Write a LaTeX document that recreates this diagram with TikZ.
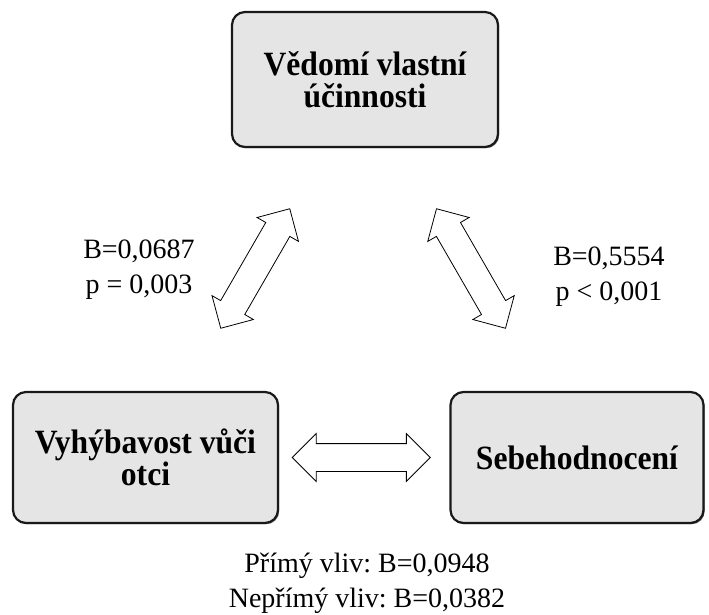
\documentclass[tikz,border=0pt]{standalone}
\usepackage{fontspec}
\setmainfont{Liberation Serif}
\newfontfamily\boxfont[FakeStretch=0.93]{Liberation Serif}
\frenchspacing
\usetikzlibrary{shapes.arrows,shadows,calc}
\begin{document}
\begin{tikzpicture}[x=1pt,y=-1pt,
  box/.style={draw=black!90, line width=2.2pt, rounded corners=13pt, fill=black!10,
    drop shadow={shadow xshift=1.2pt, shadow yshift=-1.2pt, fill=black!55, opacity=1},
    inner sep=0pt, align=center, font=\boxfont\fontsize{34}{32}\selectfont\bfseries},
  dbl/.style={double arrow, draw, line width=0.8pt, fill=white, inner xsep=0pt, inner ysep=13.5pt,
    double arrow head extend=10pt, double arrow tip angle=90, minimum height=138pt},
  lbl/.style={align=center, inner sep=0pt, font=\fontsize{28}{35}\selectfont}]
\useasboundingbox (0,0) rectangle (709,614);
\node[box, minimum width=266pt, minimum height=135pt] (T) at (365,79.5) {Vědomí vlastní\\účinnosti};
\node[box, minimum width=265pt, minimum height=131pt] (L) at (145.5,457.5) {Vyhýbavost vůči\\otci};
\node[box, minimum width=253pt, minimum height=131pt] (R) at (577,457.5) {Sebehodnocení};
\node[dbl, rotate=60] (a1) at ($(L)!0.5!(T)$) {};
\node[dbl, rotate=120] (a2) at ($(R)!0.5!(T)$) {};
\node[dbl] (a3) at ($(L)!0.5!(R)$) {};
\node[lbl] (l1) at (139,270) {B=0,0687\\p = 0,003};
\node[lbl] (l2) at (609,277) {B=0,5554\\p < 0,001};
\node[lbl] (l3) at (367,583) {Přímý vliv: B=0,0948\\Nepřímý vliv: B=0,0382};
\end{tikzpicture}
\end{document}
